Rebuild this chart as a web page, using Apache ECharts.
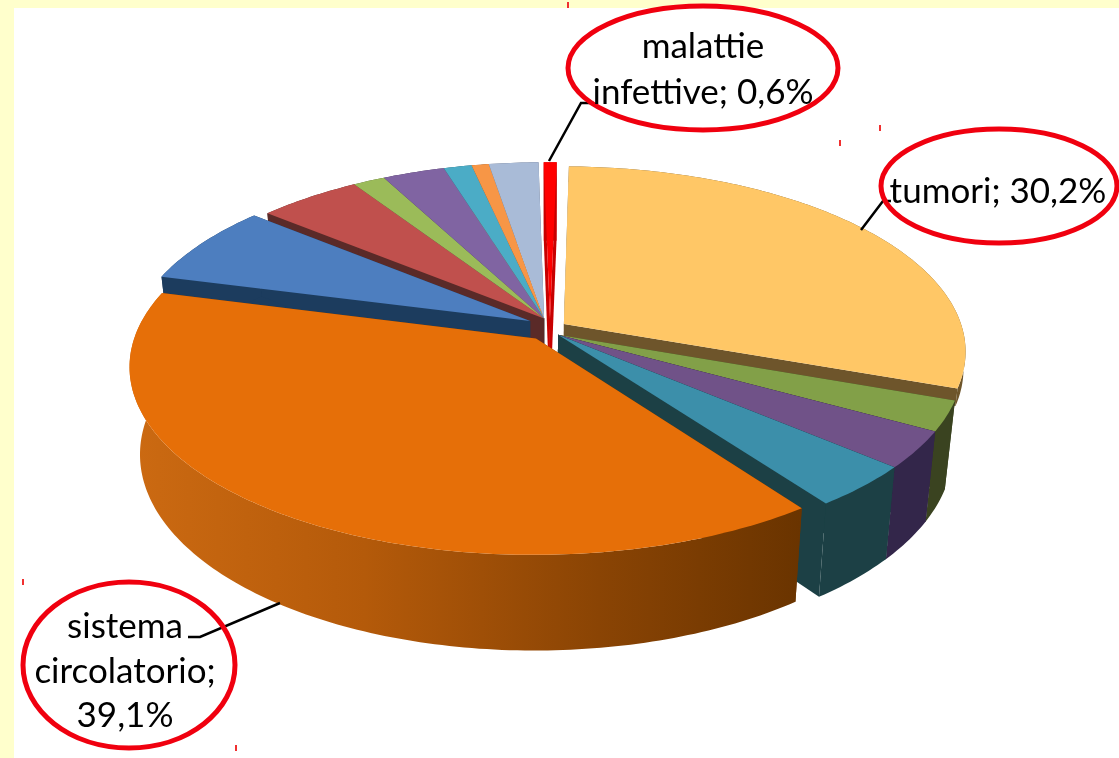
<!DOCTYPE html>
<html><head><meta charset="utf-8">
<style>html,body{margin:0;padding:0;background:#fff}#c{width:1119px;height:758px}</style>
<script src="https://cdn.jsdelivr.net/npm/echarts@6/dist/echarts.min.js"></script>
</head><body><div id="c"></div>
<script>
// ---- data (percent, clockwise from the top) ----
const names = ['malattie infettive','tumori','c3','c4','c5','sistema circolatorio','c7','c8','c9','c10','c11','c12','c13'];
const values = [0.6,30.2,2.6,3.2,3.7,39.1,7.0,4.8,1.5,2.9,1.3,0.8,2.3];
// ---- styling ----
const topColors  = ['#FF0000','#FFC766','#82A048','#705288','#3C8FAA','#E66F08','#4D7EBF','#C0504D','#9BBB59','#8064A2','#4BACC6','#F79646','#A9BBD7'];
const wallColors = ['#C80000','#6E552B','#3A4320','#33264A','#1C4045','#6A3400','#1C3C5E','#5A2A28','#4A5A2A','#3D3050','#245864','#7A4820','#55607A'];
const shiftX = [0.005,0.04,0.025,0.025,0.025,-0.03,-0.045,-0.01,-0.01,-0.01,-0.01,-0.01,-0.01];
const shiftY = [-0.08,-0.05,0.01,0.01,0.01,0.03,-0.066,-0.08,-0.08,-0.08,-0.08,-0.08,-0.08];
const depthScale = [1,0.2,1,1,1,1,1,1,1,1,1,1,1];
const wallRank = [3,4,8,9,10,11,1.6,1.3,1,1,1,1,1];
const topRank  = [3,4,8,9,10,11,2,2,2,2,2,2,2];
const startAngle = -1;
const CX=548, CY=333, RX=400, RY=183, K=0.146, DEPTH=86, BOTTOM=0.975;

function project(dx,dy,low){
  const s = 1/(1-K*dy);
  const b = low ? 1-(1-BOTTOM)*low : 1;
  return [CX+RX*dx*s*b, CY+RY*dy*s*b+DEPTH*low*s];
}
function renderSlice(params, api){
  const i = params.dataIndex;
  const v = api.value(0);
  let before = 0;
  for(let j=0;j<i;j++) before += values[j];
  const total = values.reduce((a,b)=>a+b,0);
  const a0 = (startAngle + before/total*360)*Math.PI/180;
  const a1 = a0 + v/total*2*Math.PI;
  const ox = shiftX[i], oy = shiftY[i], d = depthScale[i];
  const n = Math.max(4,Math.ceil((a1-a0)*60));
  const top=[], low=[];
  for(let k=0;k<=n;k++){
    const t=a0+(a1-a0)*k/n;
    const dx=ox+Math.sin(t), dy=oy-Math.cos(t);
    top.push(project(dx,dy,0));
    low.push(project(dx,dy,d));
  }
  const apexT=project(ox,oy,0), apexL=project(ox,oy,d);
  const z=wallRank[i]*10, zTop=topRank[i]*10+3;
  let rimFill = wallColors[i];
  if(i===5){
    rimFill = new echarts.graphic.LinearGradient(130,0,800,0,[
      {offset:0,color:'#CC6A12'},{offset:0.35,color:'#B45A0A'},{offset:0.7,color:'#8A4404'},{offset:1,color:'#6A3400'}],true);
  }
  const wall=(pts,fill,zz)=>({type:'polygon',shape:{points:pts},style:{fill:fill,stroke:null},z2:zz,silent:true});
  return {type:'group',children:[
    wall([apexT,top[0],low[0],apexL],wallColors[i],z),
    wall([apexT,top[n],low[n],apexL],wallColors[i],z+0.1),
    wall(top.concat(low.slice().reverse()),rimFill,z+0.2),
    wall([apexT].concat(top),topColors[i],zTop)
  ]};
}

const labelFont = 'Lato, "Open Sans", sans-serif';
const labelLines = [
  {text:'malattie',x:703,y:47},{text:'infettive; 0,6%',x:703,y:93},
  {text:'tumori; 30,2%',x:998,y:192},
  {text:'sistema',x:125,y:627},{text:'circolatorio;',x:125,y:672},{text:'39,1%',x:125,y:716}
];
const bubbles = [[703,68,135,62],[999,186,118,57],[129,665,106,83]];
const leaders = [
  [[594,103],[581,103],[549,161]],
  [[891,201],[883,201],[861,230]],
  [[188,637],[200,637],[280,603]]
];
const handles = [[567,2],[839,140],[879,125],[22,579],[235,745]];

const graphic = [
  {type:'rect',shape:{x:0,y:0,width:1119,height:8},style:{fill:'#FFFFCC'},z:0,silent:true},
  {type:'rect',shape:{x:0,y:0,width:14,height:758},style:{fill:'#FFFFCC'},z:0,silent:true}
];
leaders.forEach(p=>graphic.push({type:'polyline',shape:{points:p},style:{stroke:'#000',lineWidth:2.5,fill:null},z:5,silent:true}));
bubbles.forEach(b=>graphic.push({type:'ellipse',shape:{cx:b[0],cy:b[1],rx:b[2],ry:b[3]},style:{fill:null,stroke:'#F0000F',lineWidth:5},z:6,silent:true}));
handles.forEach(h=>graphic.push({type:'rect',shape:{x:h[0],y:h[1],width:2,height:6},style:{fill:'#F03030'},z:6,silent:true}));
labelLines.forEach(l=>graphic.push({type:'text',x:l.x,y:l.y,style:{text:l.text,fill:'#000',font:'35px '+labelFont,align:'center',verticalAlign:'middle'},z:7,silent:true}));

const chart = echarts.init(document.getElementById('c'),null,{renderer:'canvas'});
chart.setOption({
  animation:false,
  backgroundColor:'#ffffff',
  graphic:graphic,
  series:[{type:'custom',coordinateSystem:'none',renderItem:renderSlice,silent:true,z:2,
    data:values.map((v,i)=>({name:names[i],value:[v]}))}]
});
</script></body></html>
